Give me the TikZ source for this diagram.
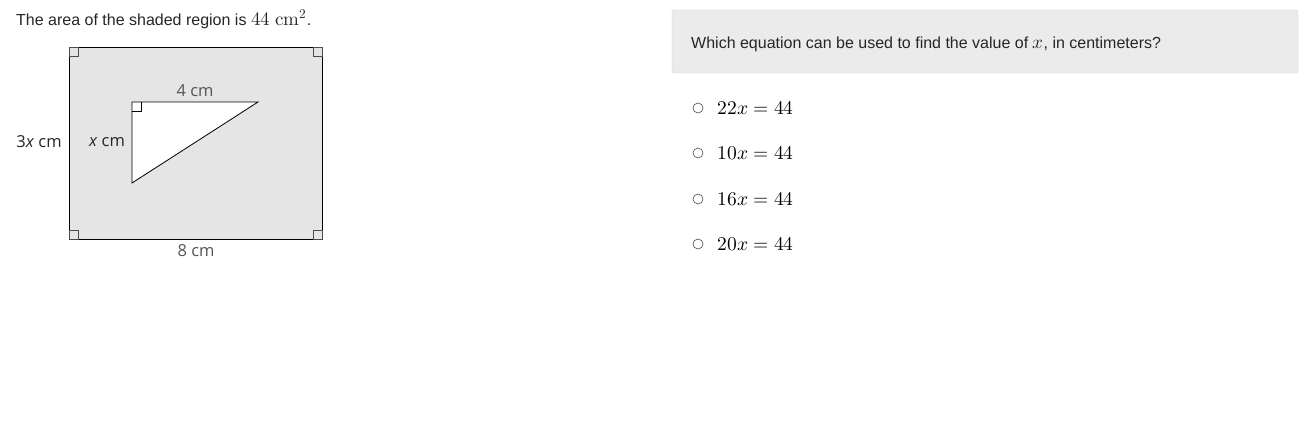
\documentclass[tikz,border=0pt]{standalone}
\usepackage{fontspec}
\setmainfont{Liberation Sans}
\newfontfamily\figfont{Open Sans}
\usepackage{unicode-math}
\setmathfont{Latin Modern Math}
\usetikzlibrary{positioning}
\definecolor{shade}{HTML}{E5E5E5}
\definecolor{boxgray}{HTML}{EBEBEB}
\definecolor{boxline}{HTML}{D2D2D2}
\definecolor{labgray}{HTML}{555555}
\newcommand{\bigmath}[1]{{\fontsize{19}{22}\selectfont$#1$}}
\tikzset{
  rmark/.style={draw=black!70, fill=shade, line width=0.6pt},
  figlab/.style={font=\figfont\fontsize{16.5}{19}\selectfont, text=black!85, inner sep=0pt},
  plain/.style={font=\fontsize{16}{19}\selectfont, text=black!85, inner sep=0pt},
  option/.style={font=\fontsize{19.5}{22}\selectfont, anchor=west, inner sep=0pt},
  radio/.style={draw=black!70, line width=0.6pt, circle, minimum size=10pt, inner sep=0pt}
}
\begin{document}
\begin{tikzpicture}[x=1pt,y=-1pt]
        \useasboundingbox (0,0) rectangle (1308,421);
        % title
        \node [plain, anchor=base west] (title) at (16,25) {The area of the shaded region is \bigmath{44\ \symup{cm}^2}.};
        % outer rectangle
        \draw [fill=shade, line width=0.8pt] (69,47) rectangle (322,239);
        \draw [rmark] (69,47) rectangle (78,56);
        \draw [rmark] (322,47) rectangle (313,56);
        \draw [rmark] (69,239) rectangle (78,230);
        \draw [rmark] (322,239) rectangle (313,230);
        % triangle
        \draw [fill=white, line width=0.8pt] (132,102) -- (258,102) -- (132,183) -- cycle;
        \draw [line width=0.6pt] (132,111) -- (141,111) -- (141,102);
        % labels
        \node [figlab, text=labgray] (top) at (195,91) {4 cm};
        \node [figlab] (outer) at (39,142) {3\emph{x} cm};
        \node [figlab] (inner) at (107,142) {\emph{x} cm};
        \node [figlab, text=labgray] (bottom) at (196,251) {8 cm};
        % question box
        \draw [fill=boxgray, draw=boxline, rounded corners=2pt] (672,10) rectangle (1298,73);
        \node [plain, anchor=base west] (question) at (691,48) {Which equation can be used to find the value of \bigmath{x}, in centimeters?};
        % options
        \node [radio] (r1) at (698,108) {};
        \node [option, right=14pt of r1] (o1) {$22x=44$};
        \node [radio] (r2) at (698,153) {};
        \node [option, right=14pt of r2] (o2) {$10x=44$};
        \node [radio] (r3) at (698,199) {};
        \node [option, right=14pt of r3] (o3) {$16x=44$};
        \node [radio] (r4) at (698,244) {};
        \node [option, right=14pt of r4] (o4) {$20x=44$};
      \end{tikzpicture}
\end{document}
